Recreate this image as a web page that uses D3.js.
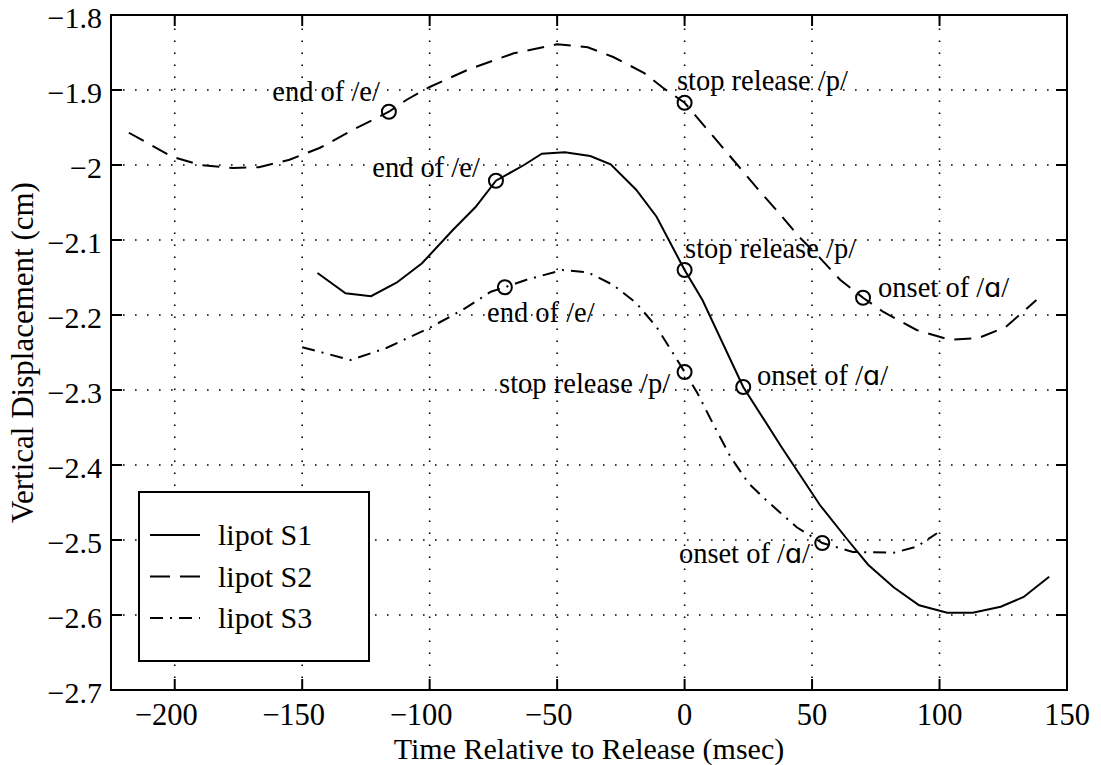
<!DOCTYPE html>
<html>
<head>
<meta charset="utf-8">
<script src="https://cdn.jsdelivr.net/npm/d3@7"></script>
<style>
  html, body { margin: 0; padding: 0; background: #fff; }
  svg text { font-family: "Liberation Serif", "Times New Roman", Times, serif; fill: #000; }
</style>
</head>
<body>
<svg id="chart" width="1101" height="765"></svg>
<script>
// Lip aperture trajectories around stop release (time in msec, displacement in cm)
const s1Time = [-144, -133, -123, -113, -103, -91, -82, -74, -63, -56, -47, -37, -29, -19, -11, 0, 7, 23, 38, 53, 64, 72, 82, 92, 103, 113, 124, 133, 143];
const s1Disp = [-2.144, -2.171, -2.175, -2.157, -2.131, -2.087, -2.056, -2.021, -2.000, -1.985, -1.983, -1.988, -1.999, -2.033, -2.069, -2.140, -2.180, -2.296, -2.376, -2.453, -2.500, -2.533, -2.563, -2.587, -2.597, -2.597, -2.589, -2.576, -2.549];

const s2Time = [-218, -201, -190, -177, -167, -155, -143, -130, -116, -109, -100, -85, -67, -50, -38, -28, -16, -8.5, 0, 9, 19, 30, 36, 45, 52, 61, 70, 78, 91, 104, 115, 126, 138];
const s2Disp = [-1.957, -1.989, -2.000, -2.004, -2.003, -1.993, -1.977, -1.953, -1.929, -1.913, -1.896, -1.873, -1.851, -1.839, -1.843, -1.856, -1.877, -1.897, -1.917, -1.953, -1.993, -2.037, -2.060, -2.096, -2.120, -2.153, -2.177, -2.196, -2.220, -2.233, -2.231, -2.216, -2.180];

const s3Time = [-150, -131, -117, -100, -87, -76, -70.5, -62, -48, -38, -28, -19, -11, -6, 0, 5, 11, 18, 25, 32, 44, 54, 66, 82, 91, 99];
const s3Disp = [-2.243, -2.260, -2.244, -2.217, -2.193, -2.169, -2.163, -2.153, -2.140, -2.143, -2.160, -2.184, -2.216, -2.243, -2.276, -2.304, -2.344, -2.389, -2.424, -2.447, -2.483, -2.504, -2.516, -2.517, -2.509, -2.491];

const seriesNames = ["lipot S1", "lipot S2", "lipot S3"];

// Landmark events: marker on the curve, label anchor (data units) and alignment
const eventSeries = [1, 0, 2, 1, 0, 2, 0, 1, 2];
const eventText   = ["end of /e/", "end of /e/", "end of /e/",
                     "stop release /p/", "stop release /p/", "stop release /p/",
                     "onset of /\u0251/", "onset of /\u0251/", "onset of /\u0251/"];
const eventTime   = [-116, -74, -70.5, 0, 0, 0, 23, 70, 54];
const eventDisp   = [-1.929, -2.021, -2.163, -1.917, -2.140, -2.276, -2.296, -2.177, -2.504];
const labelTime   = [-119.5, -80.3, -77.5, -3.0, 0.2, -5.7, 28.4, 75.9, 49.2];
const labelDisp   = [-1.9147, -2.016, -2.2093, -1.900, -2.124, -2.304, -2.2933, -2.176, -2.5307];
const labelAlign  = ["end", "end", "start", "start", "start", "end", "start", "start", "end"];

const xTicks = [-200, -150, -100, -50, 0, 50, 100, 150];
const yTicks = [-1.8, -1.9, -2, -2.1, -2.2, -2.3, -2.4, -2.5, -2.6, -2.7];
const xTickLabels = ["\u2212200", "\u2212150", "\u2212100", "\u221250", "0", "50", "100", "150"];
const yTickLabels = ["\u22121.8", "\u22121.9", "\u22122", "\u22122.1", "\u22122.2", "\u22122.3", "\u22122.4", "\u22122.5", "\u22122.6", "\u22122.7"];
const xDomain = [-225, 150];
const yDomain = [-2.7, -1.8];

const xTitle = "Time Relative to Release (msec)";
const yTitle = "Vertical Displacement (cm)";

// ---- layout ----
const plotLeft = 111, plotRight = 1067, plotTop = 15, plotBottom = 690;
const svg = d3.select("#chart");
svg.append("rect").attr("width", 1101).attr("height", 765).attr("fill", "#fff");

const x = d3.scaleLinear().domain(xDomain).range([plotLeft, plotRight]);
const y = d3.scaleLinear().domain(yDomain).range([plotBottom, plotTop]);

const dashStyles = [null, "17,10", "13,7,2,7"];

// dotted grid
const grid = svg.append("g").attr("stroke", "#000").attr("stroke-width", 1.6)
  .attr("stroke-dasharray", "1.6,10.4").attr("fill", "none");
xTicks.filter(t => t > xDomain[0] && t < xDomain[1]).forEach(t => {
  grid.append("line").attr("x1", x(t)).attr("x2", x(t)).attr("y1", plotBottom).attr("y2", plotTop);
});
yTicks.filter(v => v > yDomain[0] && v < yDomain[1]).forEach(v => {
  grid.append("line").attr("x1", plotLeft).attr("x2", plotRight).attr("y1", y(v)).attr("y2", y(v));
});

// data curves
const series = [
  {t: s1Time, v: s1Disp},
  {t: s2Time, v: s2Disp},
  {t: s3Time, v: s3Disp}
];
const line = d3.line().x(d => x(d[0])).y(d => y(d[1]));
series.forEach((s, i) => {
  const pts = s.t.map((t, k) => [t, s.v[k]]);
  svg.append("path").datum(pts).attr("d", line)
    .attr("fill", "none").attr("stroke", "#000").attr("stroke-width", 2)
    .attr("stroke-dasharray", dashStyles[i]);
});

// event markers and labels
const ev = svg.append("g");
eventTime.forEach((t, i) => {
  ev.append("circle").attr("cx", x(t)).attr("cy", y(eventDisp[i])).attr("r", 7)
    .attr("fill", "none").attr("stroke", "#000").attr("stroke-width", 2);
  const txt = ev.append("text").attr("x", x(labelTime[i])).attr("y", y(labelDisp[i]))
    .attr("text-anchor", labelAlign[i]).attr("font-size", 28.5);
  const parts = eventText[i].split("\u0251");
  txt.append("tspan").text(parts[0]);
  if (parts.length > 1) {
    txt.append("tspan").attr("font-family", "DejaVu Sans").attr("font-size", 27).text("\u0251");
    txt.append("tspan").text(parts[1]);
  }
});

// axes box
svg.append("rect").attr("x", plotLeft).attr("y", plotTop)
  .attr("width", plotRight - plotLeft).attr("height", plotBottom - plotTop)
  .attr("fill", "none").attr("stroke", "#000").attr("stroke-width", 2);

// tick marks on all four sides (inward)
const tickLen = 11;
const ticks = svg.append("g").attr("stroke", "#000").attr("stroke-width", 2);
xTicks.forEach(t => {
  ticks.append("line").attr("x1", x(t)).attr("x2", x(t)).attr("y1", plotBottom).attr("y2", plotBottom - tickLen);
  ticks.append("line").attr("x1", x(t)).attr("x2", x(t)).attr("y1", plotTop).attr("y2", plotTop + tickLen);
});
yTicks.forEach(v => {
  ticks.append("line").attr("x1", plotLeft).attr("x2", plotLeft + tickLen).attr("y1", y(v)).attr("y2", y(v));
  ticks.append("line").attr("x1", plotRight).attr("x2", plotRight - tickLen).attr("y1", y(v)).attr("y2", y(v));
});

// tick labels
xTicks.forEach((t, i) => {
  svg.append("text").attr("x", x(t)).attr("y", plotBottom + 35)
    .attr("text-anchor", "middle").attr("font-size", 30.5)
    .attr("dx", t < 0 ? "-0.28em" : 0)
    .text(xTickLabels[i]);
});
yTicks.forEach((v, i) => {
  svg.append("text").attr("x", plotLeft - 9).attr("y", y(v) + 12.5)
    .attr("text-anchor", "end").attr("font-size", 30)
    .text(yTickLabels[i]);
});

// axis titles
svg.append("text").attr("x", (plotLeft + plotRight) / 2).attr("y", 758.5)
  .attr("text-anchor", "middle").attr("font-size", 30).text(xTitle);
svg.append("text").attr("transform", `translate(33,${(plotTop + plotBottom) / 2}) rotate(-90)`)
  .attr("text-anchor", "middle").attr("font-size", 31).text(yTitle);

// legend
const lg = svg.append("g");
lg.append("rect").attr("x", 139).attr("y", 492).attr("width", 230).attr("height", 169)
  .attr("fill", "#fff").attr("stroke", "#000").attr("stroke-width", 2);
seriesNames.forEach((name, i) => {
  const ly = 535 + i * 41.5;
  lg.append("line").attr("x1", 150).attr("x2", 200).attr("y1", ly).attr("y2", ly)
    .attr("stroke", "#000").attr("stroke-width", 2)
    .attr("stroke-dasharray", i === 1 ? "20,10" : dashStyles[i]);
  lg.append("text").attr("x", 218).attr("y", ly + 10).attr("font-size", 30).text(name);
});
</script>
</body>
</html>
